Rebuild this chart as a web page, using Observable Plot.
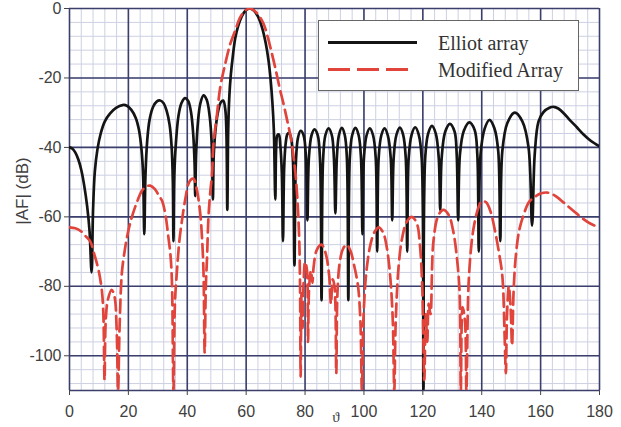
<!DOCTYPE html>
<html>
<head>
<meta charset="utf-8">
<script src="https://cdn.jsdelivr.net/npm/d3@7"></script>
<script src="https://cdn.jsdelivr.net/npm/@observablehq/plot@0.6"></script>
<style>
  html, body { margin: 0; padding: 0; background: #fff; }
  #wrap { position: relative; width: 621px; height: 427px; }
  #wrap svg { display: block; }
  #overlay { position: absolute; left: 0; top: 0; pointer-events: none; }
</style>
</head>
<body>
<div id="wrap"></div>
<script>
// ---- Data ----
const xTicks = [0, 20, 40, 60, 80, 100, 120, 140, 160, 180];
const yTicks = [0, -20, -40, -60, -80, -100];
const seriesNames = ["Elliot array", "Modified Array"];

const elliotTheta = [0,1,2,3,4,5,6,6.8,7.5,8.0,8.6,9.5,10.6,12,13.8,15.8,18.0,19.5,21,22.5,23.6,24.5,25.0,25.4,25.8,26.4,27.2,28.4,29.6,30.8,31.9,33,34,34.7,35.1,35.3,35.6,36.2,37.0,38.0,39.2,40.3,41.3,42.0,42.5,42.7,43.0,43.6,44.4,45.5,46.6,47.6,48.3,48.7,49.0,49.7,50.5,51.4,52.2,52.9,53.3,53.6,53.9,54.3,54.8,55.5,56.3,57.3,58.5,59.8,61.2,62.6,64.0,65.4,66.6,67.6,68.3,68.9,69.4,69.9,70.2,70.6,71.1,71.6,72.1,72.5,72.9,73.4,74.0,74.6,75.3,75.9,76.4,76.9,77.6,78.5,79.5,80.3,80.8,81.3,82.2,83.2,84.3,85.1,85.6,86.1,86.9,88.0,89.1,89.8,90.3,90.8,91.5,92.5,93.5,94.2,94.7,95.2,96.0,97.1,98.2,99.0,99.5,100.0,100.9,102.0,103.1,104.0,104.5,105.0,105.9,107.0,108.1,109.1,109.6,110.1,111.0,112.2,113.3,114.2,114.7,115.2,116.2,117.4,118.6,119.6,120.2,120.8,121.8,123.1,124.4,125.4,125.9,126.4,127.6,129.2,130.8,131.5,132.0,132.6,133.9,135.8,137.6,138.5,139.0,139.6,141.0,142.6,144.3,145.6,146.3,147.0,148.7,151.2,153.8,155.9,157.1,158.0,159.3,161,163,164.4,166,168,170,172.3,174.5,176.9,180];
const elliotDb = [-40,-40.4,-41.5,-43.5,-46.5,-51,-57,-64,-76,-58,-47,-40.5,-36,-32.5,-30.2,-28.6,-27.8,-28,-29.2,-31.5,-35,-41,-48,-65,-48,-38,-32,-28.3,-26.8,-26.5,-27.2,-29.5,-33.5,-40,-50,-67,-48,-38,-31,-27.3,-25.8,-26.6,-30,-36,-45,-54,-42,-33,-27.5,-25,-26.3,-31,-39,-55,-42,-34,-29.5,-27,-26.5,-29,-36,-58,-35,-25,-19,-13.5,-8.5,-5,-2.3,-0.6,0,-0.6,-2.3,-5.5,-9.8,-15,-20.5,-27,-35,-55,-40,-36.5,-36.3,-39.5,-47,-67,-46,-39,-36.2,-35.8,-37.5,-44,-74,-44,-37.2,-35.2,-36.5,-43,-61,-43,-36.5,-34.8,-36.5,-44,-84,-44,-36.5,-34.5,-36.5,-43,-59,-43,-36.5,-34.4,-36.5,-43,-84,-43,-36.5,-34.4,-36.5,-43,-65,-43,-36.5,-34.5,-36.5,-43,-70,-43,-36.5,-34.5,-36.5,-43,-61,-43,-36.5,-34.3,-36.3,-43,-70,-43,-36.3,-34.2,-36.3,-43,-110,-43,-36,-33.8,-36,-43,-58,-43,-35.5,-33.2,-35.5,-42,-61,-42,-35.3,-32.8,-35,-42,-70,-42,-34.6,-32.1,-34.5,-41,-67,-41,-33,-30,-32.5,-40,-62.5,-42,-32.5,-29.8,-28.6,-28.3,-28.8,-30.3,-32.2,-34.2,-36.2,-38,-39.7];

const modTheta = [0,2,4,5.3,7,8.5,9.9,11,11.5,11.9,12.3,13,14.3,15.3,16,16.5,17,17.8,18.7,19.5,20.4,21.2,22.8,24.6,26,27.4,29,30.4,31.4,32.6,33.6,34.3,34.8,35.3,35.8,36.5,37.3,38.2,39.3,40.4,41.2,42.1,43.2,44.4,45.0,45.5,45.9,46.3,46.7,47.2,47.8,48.4,48.9,50.1,51.2,52.9,54.6,56.3,58.0,59.7,61.4,63.0,64.5,65.9,67.2,68.6,70.0,71.4,72.7,74.0,75.0,76.0,76.8,77.4,78.0,78.3,78.5,78.8,79.2,79.5,80.0,80.6,81.0,81.4,82.0,82.5,82.9,84.0,85.6,87.0,88.2,88.8,89.4,90.0,90.6,91.0,91.8,93.0,94.2,95.5,96.8,98.0,98.8,99.3,99.8,100.8,102.2,103.5,105.0,106.5,107.8,109.0,109.8,110.3,110.8,111.8,113.0,114.5,116.3,118.0,119.0,119.8,120.5,121.0,121.5,122.0,122.6,123.6,125.3,127.0,128.8,130.3,131.6,132.5,132.9,133.5,134.3,134.8,135.5,136.5,137.5,139.0,140.0,141.5,143.0,144.5,145.8,147.0,147.8,148.2,148.6,149.2,149.8,150.3,150.8,151.5,152.7,154.2,156,157.6,160,162.2,164,165.6,168,171.2,174,177,180];
const modDb = [-63,-63.3,-64.2,-65.4,-67,-71,-75.5,-81.3,-88,-107,-90,-84,-81,-83,-92,-110,-92,-76,-70,-66,-62.5,-60,-56,-52.5,-51.3,-51,-52,-54,-55.3,-59.5,-66,-71,-79,-110,-85,-75.5,-67,-61,-55,-50.5,-49.3,-49,-52,-59,-66,-75.5,-99,-80,-72,-60,-53,-47.6,-39,-30.4,-22.7,-15.9,-10.2,-6.3,-2.5,-0.6,0,-0.8,-2.3,-4.4,-7.8,-12.5,-17.5,-23,-27.5,-32.5,-36.5,-42,-48,-55,-66,-80,-106,-82,-92,-79,-73,-75,-96,-80,-75.5,-79,-74.5,-69.5,-68,-70.5,-77,-85,-78,-80,-105,-82,-73,-69,-68,-70,-74.5,-80,-90,-110,-90,-76,-68,-64.5,-63,-64.5,-69,-78,-90,-110,-90,-74,-66,-61.5,-60,-62,-68,-80,-107,-88,-96,-85,-88,-67,-59.5,-58,-59.5,-64,-72,-82,-110,-86,-90,-110,-80,-68,-62,-57,-55.5,-55.8,-58.5,-64,-70,-77,-95,-105,-88,-80,-86,-97,-82,-72,-64,-59.5,-55.8,-54.5,-53.3,-53,-53.5,-54.3,-56,-58.3,-60.3,-62,-63];

// ---- Build tables ----
const elliot = elliotTheta.map((t, i) => ({theta: t, db: elliotDb[i]}));
const modified = modTheta.map((t, i) => ({theta: t, db: modDb[i]}));
const minorX = d3.range(0, 181, 4);
const minorY = d3.range(0, -111, -4);
const majorX = xTicks;
const majorY = yTicks.concat([-110]);

const navy = "#3b3f6c";
const minor = "#cdd0e2";
const black = "#141414";
const red = "#e0443b";
const plainFormat = d => String(d); // ASCII hyphen-minus as in the reference

const chart = Plot.plot({
  width: 621,
  height: 427,
  marginLeft: 69,
  marginRight: 22,
  marginTop: 8,
  marginBottom: 37,
  style: {background: "#fff", fontFamily: "'Liberation Sans', Arial, sans-serif", fontSize: "16px", color: "#404040"},
  x: {domain: [0, 180]},
  y: {domain: [-110, 0]},
  marks: [
    Plot.ruleX(minorX, {stroke: minor, strokeWidth: 1}),
    Plot.ruleY(minorY, {stroke: minor, strokeWidth: 1}),
    Plot.ruleX(majorX, {stroke: navy, strokeWidth: 1.6}),
    Plot.ruleY(majorY, {stroke: navy, strokeWidth: 1.6}),
    Plot.axisX(xTicks, {tickSize: 5, tickPadding: 10, label: null, stroke: "#444", fontSize: 16, tickFormat: plainFormat}),
    Plot.axisY(yTicks, {tickSize: 5, tickPadding: 3, label: null, stroke: "#444", fontSize: 16, tickFormat: plainFormat}),
    Plot.line(elliot, {x: "theta", y: "db", stroke: black, strokeWidth: 2.7, curve: "catmull-rom", clip: true}),
    Plot.line(modified, {x: "theta", y: "db", stroke: red, strokeWidth: 2.7, strokeDasharray: "13,6", curve: "catmull-rom", clip: true})
  ]
});

const wrap = document.getElementById("wrap");
wrap.appendChild(chart);

// ---- Overlay: axis titles and legend ----
const ns = "http://www.w3.org/2000/svg";
const ov = document.createElementNS(ns, "svg");
ov.setAttribute("id", "overlay");
ov.setAttribute("width", 621);
ov.setAttribute("height", 427);
ov.innerHTML = `
  <text transform="translate(28,191) rotate(-90)" text-anchor="middle" font-family="'Liberation Sans', Arial, sans-serif" font-size="17" fill="#404040">|AF| (dB)</text>
  <text x="336" y="422" text-anchor="middle" font-family="'Liberation Serif', 'Times New Roman', serif" font-size="15" fill="#404040">ϑ</text>
  <rect x="318.5" y="20.5" width="260" height="70" fill="#fff" stroke="#666" stroke-width="1"/>
  <line x1="328" y1="42.5" x2="417" y2="42.5" stroke="${black}" stroke-width="3"/>
  <line x1="328" y1="69.5" x2="410" y2="69.5" stroke="${red}" stroke-width="3" stroke-dasharray="22,7"/>
  <text x="438" y="50" font-family="'Liberation Serif', 'Times New Roman', serif" font-size="20" fill="#333">${seriesNames[0]}</text>
  <text x="438" y="77" font-family="'Liberation Serif', 'Times New Roman', serif" font-size="20" fill="#333">${seriesNames[1]}</text>
`;
wrap.appendChild(ov);
</script>
</body>
</html>
